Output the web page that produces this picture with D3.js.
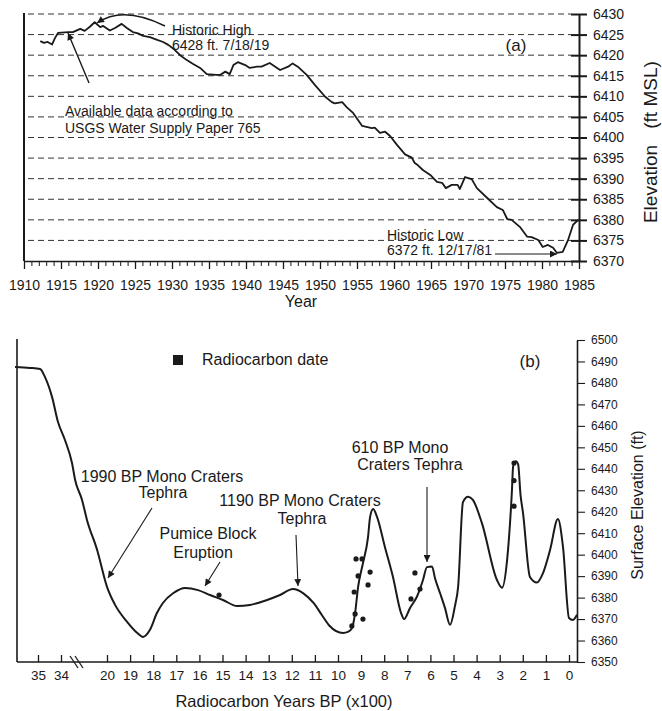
<!DOCTYPE html>
<html><head><meta charset="utf-8">
<script src="https://cdn.jsdelivr.net/npm/d3@7/dist/d3.min.js"></script>
<style>
body{margin:0;background:#fff}
svg{display:block}
text{font-family:"Liberation Sans",Arial,Helvetica,sans-serif;fill:#1a1a1a}
</style>
</head><body>
<svg id="c" width="662" height="711"></svg>
<script>
// ---------- Panel (a): Mono Lake historic elevation ----------
const yearsA = [1912.2,1912.7,1913.2,1913.8,1914.2,1914.6,1916.0,1916.6,1917.6,1918.2,1918.9,1919.55,1920.3,1920.7,1921.6,1922.3,1923.2,1923.9,1924.7,1925.4,1926.1,1927.0,1928.0,1928.8,1929.5,1930.1,1931.1,1932.0,1932.8,1933.8,1934.7,1936.0,1936.5,1937.2,1937.8,1938.3,1938.9,1939.9,1940.5,1941.5,1942.1,1943.2,1944.6,1945.7,1946.3,1947.0,1948.2,1949.3,1950.7,1951.6,1952.0,1953.0,1953.6,1954.5,1955.7,1957.0,1957.4,1958.1,1958.8,1959.5,1960.4,1961.5,1962.4,1962.8,1963.2,1963.9,1964.9,1965.8,1966.5,1967.0,1967.8,1968.6,1968.9,1969.6,1970.5,1971.2,1972.6,1973.9,1974.7,1975.3,1975.9,1977.0,1978.0,1978.6,1979.5,1980.1,1980.8,1981.5,1982.0,1982.8,1983.5,1984.2,1984.9];
const elevA = [6423.4,6423.0,6423.2,6422.6,6424.2,6425.4,6425.6,6425.6,6426.4,6425.9,6426.9,6428.0,6426.8,6427.1,6426.0,6426.6,6427.6,6426.6,6425.6,6425.3,6424.7,6424.4,6423.7,6423.2,6422.5,6421.7,6420.0,6418.8,6417.9,6416.9,6415.4,6415.2,6415.2,6416.0,6415.4,6417.6,6418.3,6417.6,6416.9,6417.2,6417.2,6418.1,6416.4,6417.2,6418.0,6417.2,6415.2,6412.8,6409.9,6408.6,6408.3,6408.6,6407.4,6405.9,6402.8,6402.3,6402.4,6401.1,6401.4,6400.3,6398.2,6395.9,6395.1,6393.8,6393.3,6392.1,6390.9,6389.2,6389.0,6387.7,6388.5,6388.5,6387.5,6390.4,6389.9,6387.7,6385.3,6383.1,6382.4,6380.2,6380.0,6378.3,6375.9,6375.8,6375.1,6373.4,6373.9,6373.2,6372.0,6372.2,6375.0,6378.8,6380.0];
const yearTicks = [1910,1915,1920,1925,1930,1935,1940,1945,1950,1955,1960,1965,1970,1975,1980,1985];
const elevTicksA = [6370,6375,6380,6385,6390,6395,6400,6405,6410,6415,6420,6425,6430];
const gridA = [6375,6380,6385,6390,6395,6400,6405,6410,6415,6420,6425,6430];

// ---------- Panel (b): reconstructed surface elevation ----------
const bpB = [36,35.35,34.91,34.7,34.39,34.13,32.8,30.65,29.7,27.6,26.1,23.0,20,19.65,19.13,18.7,18.44,18.14,17.84,17.58,17.14,16.62,16.06,15.54,14.98,14.37,13.81,13.07,12.51,11.95,11.5,11.06,10.7,10.38,9.78,9.57,9.4,9.26,9.13,8.92,8.7,8.61,8.48,8.31,7.97,7.62,7.27,7.14,6.88,6.58,6.32,6.15,5.93,5.8,5.58,5.37,5.15,4.94,4.8,4.59,4.37,4.16,3.77,3.12,2.9,2.68,2.47,2.42,2.3,2.2,2.1,1.99,1.69,1.39,1.13,0.82,0.48,0.26,0.0,-0.17,-0.35];
const elevB = [6487.4,6487.0,6486.5,6482.8,6473.5,6461.8,6453.4,6442.7,6434.8,6425.5,6416.2,6402.2,6385.0,6376.6,6368.7,6363.6,6361.7,6365.0,6372.8,6377.5,6382.0,6384.5,6383.5,6381.2,6378.9,6376.1,6376.6,6378.9,6381.2,6384.0,6382.0,6377.5,6371.9,6367.0,6363.5,6364.0,6365.7,6372.8,6385.0,6396.0,6408.2,6417.6,6421.3,6417.6,6403.6,6389.6,6372.8,6370.0,6375.2,6380.5,6388.2,6394.2,6394.5,6389.0,6382.0,6375.2,6367.3,6375.9,6385.0,6424.5,6427.0,6425.5,6414.7,6388.2,6384.6,6397.5,6430.0,6441.0,6443.5,6442.0,6428.0,6419.4,6389.6,6387.0,6391.3,6402.2,6416.6,6403.6,6370.5,6369.6,6372.0];
const dateBP = [9.22,8.96,9.13,8.61,8.7,9.3,9.26,8.92,9.4,6.67,6.45,6.84,15.15,2.38,2.38,2.38];
const dateElev = [6398.0,6398.0,6390.1,6391.9,6385.9,6382.6,6372.4,6370.0,6366.8,6391.5,6384.0,6379.4,6381.2,6442.7,6434.5,6422.6];
const bpTicks = [35,34,20,19,18,17,16,15,14,13,12,11,10,9,8,7,6,5,4,3,2,1,0];
const elevTicksB = [6350,6360,6370,6380,6390,6400,6410,6420,6430,6440,6450,6460,6470,6480,6490,6500];

const svg = d3.select("#c");
const ink = "#1a1a1a";

// arrow marker
svg.append("defs").append("marker")
  .attr("id","ah").attr("viewBox","0 0 10 10").attr("refX",10).attr("refY",5)
  .attr("markerWidth",8).attr("markerHeight",7).attr("markerUnits","userSpaceOnUse")
  .attr("orient","auto")
  .append("path").attr("d","M0,0 L10,5 L0,10 z").attr("fill",ink);

// ================= Panel (a) =================
const xA = d3.scaleLinear().domain([1910,1985]).range([24,579]);
const yA = d3.scaleLinear().domain([6370,6430]).range([261,14]);
const gA = svg.append("g");

// dashed grid
gA.selectAll("line.grid").data(gridA).join("line")
  .attr("x1",28).attr("x2",xA(1985)-8)
  .attr("y1",d=>yA(d)).attr("y2",d=>yA(d))
  .attr("stroke","#333").attr("stroke-width",1).attr("stroke-dasharray","6,4");

// left frame line
gA.append("line").attr("x1",xA(1910)).attr("x2",xA(1910)).attr("y1",yA(6430)-1).attr("y2",yA(6370))
  .attr("stroke",ink).attr("stroke-width",2);

// bottom axis (minor + major)
const axMinor = gA.append("g").attr("transform",`translate(0,${yA(6370)})`)
  .call(d3.axisBottom(xA).tickValues(d3.range(1910,1986,1)).tickSize(5).tickSizeOuter(0).tickFormat(""));
axMinor.select(".domain").attr("stroke",ink).attr("stroke-width",1.6);
axMinor.selectAll(".tick line").attr("stroke",ink).attr("stroke-width",1);
const axMajor = gA.append("g").attr("transform",`translate(0,${yA(6370)})`)
  .call(d3.axisBottom(xA).tickValues(yearTicks).tickSize(8).tickSizeOuter(0).tickPadding(11).tickFormat(d3.format("d")));
axMajor.select(".domain").remove();
axMajor.selectAll(".tick line").attr("stroke",ink).attr("stroke-width",1.3);
axMajor.selectAll("text").attr("font-size",14).style("fill",ink);

// right axis
const axR = gA.append("g").attr("transform",`translate(${xA(1985)},0)`)
  .call(d3.axisRight(yA).tickValues(elevTicksA).tickSize(8).tickSizeOuter(0).tickPadding(6).tickFormat(d3.format("d")));
axR.select(".domain").attr("stroke",ink).attr("stroke-width",2);
axR.selectAll(".tick line").attr("x1",-8).attr("stroke",ink).attr("stroke-width",2);
axR.selectAll("text").attr("font-size",14).style("fill",ink);

// data line
const lineA = d3.line().x(d=>xA(d[0])).y(d=>yA(d[1]));
gA.append("path").datum(yearsA.map((y,i)=>[y,elevA[i]]))
  .attr("d",lineA).attr("fill","none").attr("stroke",ink).attr("stroke-width",1.8).attr("stroke-linejoin","round");

// annotations (a)
const tA = (x,y,s,fs=14,anchor="start")=>gA.append("text").attr("x",x).attr("y",y).attr("font-size",fs).attr("text-anchor",anchor).text(s);
tA(172,35,"Historic High");
tA(172,50,"6428 ft. 7/18/19");
tA(516,51,"(a)",17,"middle");
tA(65,116,"Available data according to");
tA(65,133,"USGS Water Supply Paper 765");
tA(387,240,"Historic Low");
tA(387,255,"6372 ft. 12/17/81");
tA(301,307,"Year",16,"middle");
gA.append("text").attr("transform","translate(657,184) rotate(-90)").attr("text-anchor","middle").attr("font-size",19).text("Elevation");
gA.append("text").attr("transform","translate(657,95) rotate(-90)").attr("text-anchor","middle").attr("font-size",19).text("(ft MSL)");

// arrows (a)
gA.append("path").attr("d","M165,26 Q123,5 97,23").attr("fill","none").attr("stroke",ink).attr("stroke-width",1.4).attr("marker-end","url(#ah)");
gA.append("line").attr("x1",89).attr("y1",83).attr("x2",68).attr("y2",33).attr("stroke",ink).attr("stroke-width",1.4).attr("marker-end","url(#ah)");
gA.append("line").attr("x1",495).attr("y1",254).attr("x2",557).attr("y2",254).attr("stroke",ink).attr("stroke-width",1.1).attr("marker-end","url(#ah)");

// ================= Panel (b) =================
const xB = d3.scaleLinear().domain([36,35,34,20,0,-0.35]).range([15,38,61,107,569,577]);
const yB = d3.scaleLinear().domain([6350,6500]).range([662,340]);
const gB = svg.append("g");

// left line
gB.append("line").attr("x1",17).attr("x2",17).attr("y1",339).attr("y2",662).attr("stroke",ink).attr("stroke-width",1.6);

// bottom axis
const axB = gB.append("g").attr("transform",`translate(0,${yB(6350)})`)
  .call(d3.axisBottom(xB).tickValues(bpTicks).tickSize(-7).tickSizeOuter(0).tickPadding(8).tickFormat(d3.format("d")));
axB.select(".domain").attr("d",`M17,0H${xB(-0.35)}`).attr("stroke",ink).attr("stroke-width",1.6);
axB.selectAll(".tick line").attr("stroke",ink).attr("stroke-width",1.3);
axB.selectAll("text").attr("font-size",13.5).style("fill",ink);
// axis break marks
[0,5].forEach(o=>{
  gB.append("line").attr("x1",70+o).attr("y1",656).attr("x2",78+o).attr("y2",668).attr("stroke",ink).attr("stroke-width",1.3);
});

// right axis
const axRB = gB.append("g").attr("transform",`translate(${xB(-0.35)},0)`)
  .call(d3.axisRight(yB).tickValues(elevTicksB).tickSize(8).tickSizeOuter(0).tickPadding(6).tickFormat(d3.format("d")));
axRB.select(".domain").attr("stroke",ink).attr("stroke-width",1.6);
axRB.selectAll(".tick line").attr("stroke",ink).attr("stroke-width",1.1);
axRB.selectAll("text").attr("font-size",12).style("fill",ink);

// curve
const lineB = d3.line().x(d=>xB(d[0])).y(d=>yB(d[1])).curve(d3.curveMonotoneX);
gB.append("path").datum(bpB.map((b,i)=>[b,elevB[i]]))
  .attr("d",lineB).attr("fill","none").attr("stroke",ink).attr("stroke-width",2).attr("stroke-linejoin","round");

// dots
gB.selectAll("circle.dot").data(dateBP.map((b,i)=>[b,dateElev[i]])).join("circle")
  .attr("cx",d=>xB(d[0])).attr("cy",d=>yB(d[1])).attr("r",2.6).attr("fill",ink);

// legend
gB.append("rect").attr("x",173).attr("y",355).attr("width",10).attr("height",10).attr("fill",ink);
const tB = (x,y,s,fs=16,anchor="middle")=>gB.append("text").attr("x",x).attr("y",y).attr("font-size",fs).attr("text-anchor",anchor).text(s);
tB(202,365,"Radiocarbon date",16,"start");
tB(530,367,"(b)",17);
tB(162,482,"1990 BP Mono Craters");
tB(163,498,"Tephra");
tB(208,539,"Pumice Block");
tB(203,558,"Eruption");
tB(300,506,"1190 BP Mono Craters");
tB(302,524,"Tephra");
tB(400,453,"610 BP Mono");
tB(410,470,"Craters Tephra");
tB(284,707,"Radiocarbon Years BP (x100)",16.5);
gB.append("text").attr("transform","translate(643,505) rotate(-90)").attr("text-anchor","middle").attr("font-size",16).text("Surface Elevation (ft)");

// arrows (b)
const arr = (x1,y1,x2,y2)=>gB.append("line").attr("x1",x1).attr("y1",y1).attr("x2",x2).attr("y2",y2)
  .attr("stroke",ink).attr("stroke-width",1.1).attr("marker-end","url(#ah)");
arr(152,508,108,578);
arr(220,562,205,586);
arr(296,535,298,586);
arr(427,487,427,562);
</script>
</body></html>
